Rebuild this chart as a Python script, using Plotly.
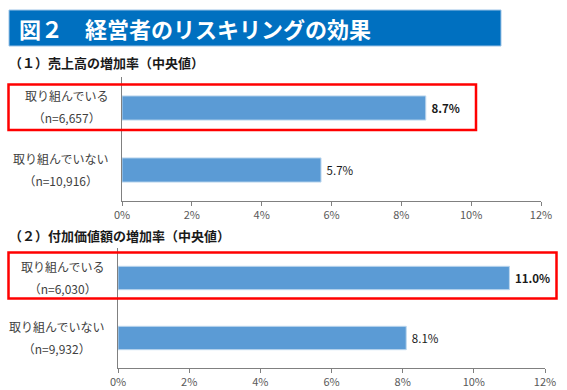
import plotly.graph_objects as go

# ---- data ----
categories = ["取り組んでいる", "取り組んでいない"]
sales_n = ["6,657", "10,916"]
sales_values = [8.7, 5.7]
va_n = ["6,030", "9,932"]
va_values = [11.0, 8.1]
tick_vals = [0, 2, 4, 6, 8, 10, 12]
tick_text = ["0%", "2%", "4%", "6%", "8%", "10%", "12%"]
title_text = "図２　経営者のリスキリングの効果"
sub1_text = "（１）売上高の増加率（中央値）"
sub2_text = "（２）付加価値額の増加率（中央値）"

W, H = 567, 390
FONT = "Noto Sans CJK JP"
BAR = "#5B9BD5"


def px(x):
    return x / W


def py(y):
    return 1 - y / H


fig = go.Figure()


def value_text(vals):
    out = []
    for i, v in enumerate(vals):
        s = f"\u00a0{v:.1f}%"
        out.append(f"<b>{s}</b>" if i == 0 else s)
    return out


for vals, xa, ya in [(sales_values, "x", "y"), (va_values, "x2", "y2")]:
    fig.add_trace(go.Bar(
        x=vals, y=categories, orientation="h", xaxis=xa, yaxis=ya,
        marker=dict(color=BAR, line=dict(color="#BDD7EE", width=1)),
        width=0.39, text=value_text(vals), textposition="outside",
        textfont=dict(family=FONT, size=11.5, color="#1a1a1a"),
        constraintext="none", cliponaxis=False, showlegend=False,
        hoverinfo="skip",
    ))

xaxis_common = dict(
    range=[0, 12], tickvals=tick_vals, ticktext=tick_text, ticks="outside",
    ticklen=4, tickcolor="#808080", showline=True, linecolor="#808080",
    linewidth=1, showgrid=False, zeroline=False,
    tickfont=dict(family=FONT, size=11, color="#595959"), fixedrange=True,
)
yaxis_common = dict(
    type="category", autorange="reversed", showline=True, linecolor="#808080",
    linewidth=1, showticklabels=False, ticks="", showgrid=False,
    zeroline=False, fixedrange=True,
)

fig.update_layout(
    width=W, height=H, margin=dict(l=0, r=0, t=0, b=0, autoexpand=False),
    paper_bgcolor="white", plot_bgcolor="white", bargap=0.6,
    xaxis=dict(domain=[px(122), px(541)], anchor="y", **xaxis_common),
    yaxis=dict(domain=[py(201), py(77)], anchor="x", **yaxis_common),
    xaxis2=dict(domain=[px(118), px(545)], anchor="y2", **xaxis_common),
    yaxis2=dict(domain=[py(368), py(248)], anchor="x2", **yaxis_common),
)

shapes = [
    # title bar
    dict(type="rect", xref="paper", yref="paper", x0=px(9), x1=px(501),
         y0=py(46), y1=py(10), fillcolor="#0070C0",
         line=dict(color="#9DC3E6", width=1), layer="below"),
    # red highlight boxes
    dict(type="rect", xref="paper", yref="paper", x0=px(8.5), x1=px(476),
         y0=py(130), y1=py(84.5), line=dict(color="#FF0000", width=2.5),
         fillcolor="rgba(0,0,0,0)"),
    dict(type="rect", xref="paper", yref="paper", x0=px(8.5), x1=px(556.5),
         y0=py(298.5), y1=py(252.5), line=dict(color="#FF0000", width=2.5),
         fillcolor="rgba(0,0,0,0)"),
]

annotations = [
    dict(text=f"<b>{title_text}</b>", xref="paper", yref="paper", x=px(17),
         y=py(28), xanchor="left", yanchor="middle", showarrow=False,
         font=dict(family=FONT, size=22, color="white")),
    dict(text=f"<b>{sub1_text}</b>", xref="paper", yref="paper", x=px(7),
         y=py(63), xanchor="left", yanchor="middle", showarrow=False,
         font=dict(family=FONT, size=13, color="#1a1a1a")),
    dict(text=f"<b>{sub2_text}</b>", xref="paper", yref="paper", x=px(7),
         y=py(235), xanchor="left", yanchor="middle", showarrow=False,
         font=dict(family=FONT, size=13, color="#1a1a1a")),
]

for ns, xa, ya in [(sales_n, "x", "y"), (va_n, "x2", "y2")]:
    for cat, n in zip(categories, ns):
        annotations.append(dict(
            text=(f"<span style='font-size:12px'>{cat}</span><br>"
                  f"<span style='font-size:12px'>（n={n}）</span>"),
            xref=f"{xa} domain", yref=ya, x=0, y=cat, xshift=-12, yshift=1,
            xanchor="right", yanchor="middle", align="center",
            showarrow=False, font=dict(family=FONT, size=17, color="#404040"),
        ))

fig.update_layout(shapes=shapes, annotations=annotations)
fig.write_html(
    "out.html",
    config={"displayModeBar": False, "staticPlot": True},
    post_script="document.body.style.margin='0';document.body.style.padding='0';document.body.style.overflow='hidden';",
)
